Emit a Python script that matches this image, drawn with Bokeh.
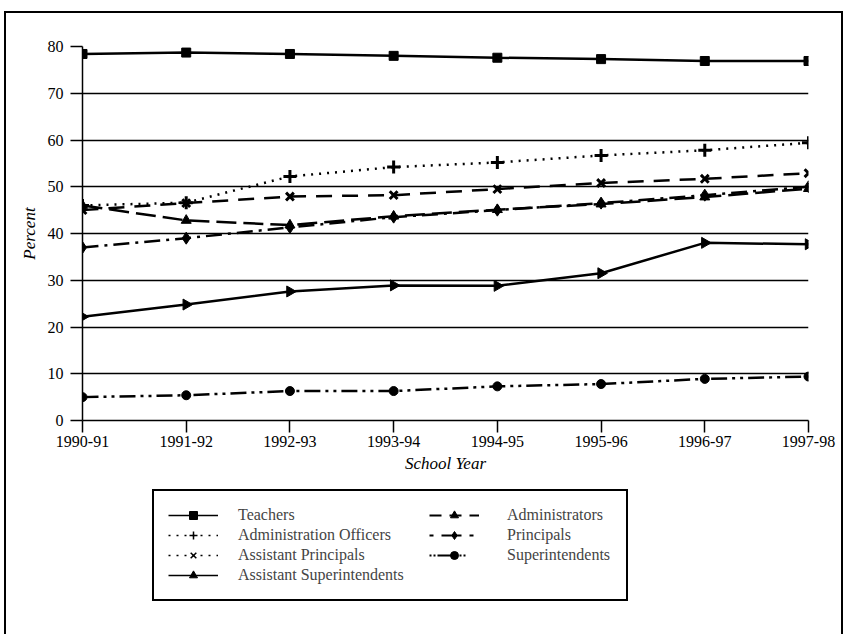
import numpy as np
from bokeh.plotting import figure
from bokeh.layouts import column
from bokeh.models import Legend, LegendItem, FixedTicker, Range1d
from bokeh.embed import file_html
from bokeh.resources import INLINE

years = ["1990-91", "1991-92", "1992-93", "1993-94", "1994-95", "1995-96", "1996-97", "1997-98"]
y_ticks = [0, 10, 20, 30, 40, 50, 60, 70, 80]

teachers = [78.4, 78.7, 78.4, 78.0, 77.6, 77.3, 76.9, 76.9]
admin_officers = [46.0, 46.6, 52.2, 54.2, 55.2, 56.7, 57.8, 59.4]
asst_principals = [45.0, 46.5, 47.9, 48.2, 49.5, 50.8, 51.7, 52.9]
asst_supts = [22.2, 24.8, 27.6, 28.9, 28.8, 31.5, 38.0, 37.7]
administrators = [46.0, 42.8, 41.8, 43.7, 45.1, 46.3, 47.8, 49.6]
principals = [37.0, 39.0, 41.3, 43.5, 45.0, 46.5, 48.2, 50.0]
superintendents = [5.0, 5.4, 6.3, 6.3, 7.3, 7.8, 8.9, 9.4]

x = list(range(len(years)))
FONT = "Liberation Serif"
W = 835

p = figure(width=W, height=462, output_backend="svg", toolbar_location=None,
           x_range=Range1d(0, len(years) - 1), y_range=Range1d(0, 80),
           min_border_left=76, min_border_right=33, min_border_top=33, min_border_bottom=50)
p.outline_line_color = None
p.background_fill_color = "white"
p.border_fill_color = "white"

# grid
p.xgrid.grid_line_color = None
p.ygrid.grid_line_color = "black"
p.ygrid.grid_line_width = 1.5
p.ygrid.ticker = FixedTicker(ticks=y_ticks)

# axes
p.yaxis.ticker = FixedTicker(ticks=y_ticks)
p.xaxis.ticker = FixedTicker(ticks=x)
p.xaxis.major_label_overrides = {i: y for i, y in enumerate(years)}
for ax in (p.xaxis[0], p.yaxis[0]):
    ax.axis_line_color = "black"
    ax.axis_line_width = 1.5
    ax.major_tick_line_color = "black"
    ax.major_tick_line_width = 1.5
    ax.major_tick_in = 0
    ax.minor_tick_line_color = None
    ax.major_label_text_font = FONT
    ax.major_label_text_font_size = "16px"
    ax.major_label_text_color = "black"
    ax.axis_label_text_font = FONT
    ax.axis_label_text_font_size = "17px"
    ax.axis_label_text_font_style = "italic"
    ax.axis_label_text_color = "black"
p.yaxis.major_tick_out = 12
p.yaxis.major_label_standoff = 7
p.yaxis.axis_label = "Percent"
p.yaxis.axis_label_standoff = 6
p.xaxis.major_tick_out = 12
p.xaxis.major_label_standoff = 3
p.xaxis.axis_label = "School Year"
p.xaxis.axis_label_standoff = 4

# series
def series(fig, vals, dash, marker, msize, filled, angle=0.0, lw=2.5, mlw=3):
    r = fig.line(x, vals, line_color="black", line_width=lw, line_dash=dash)
    if filled:
        m = fig.scatter(x, vals, marker=marker, size=msize, color="black", angle=angle)
    else:
        m = fig.scatter(x, vals, marker=marker, size=msize, line_color="black",
                        line_width=mlw, angle=angle)
    return r, m

series(p, teachers, "solid", "square", 9, True)
series(p, admin_officers, "2 6", "cross", 13, False)
series(p, asst_principals, "16 10", "x", 11, False)
series(p, asst_supts, "solid", "triangle", 11, True, angle=-np.pi / 2)
series(p, administrators, "20 7", "triangle", 10, True)
series(p, principals, "16 6 3 6", "diamond", 12, True)
series(p, superintendents, "16 5 3 5 3 5", "circle", 9, True)

# legend panel (its sample glyphs use the same series, kept out of view)
LH = 625 - 462
q = figure(width=W, height=LH, output_backend="svg", toolbar_location=None,
           x_range=Range1d(0, 1), y_range=Range1d(-2, -1),
           min_border_left=0, min_border_right=0, min_border_top=0, min_border_bottom=0)
q.axis.visible = False
q.grid.visible = False
q.outline_line_color = None
q.background_fill_color = "white"
q.border_fill_color = "white"

l_t = series(q, teachers, "solid", "square", 8, True, lw=1.5)
l_ao = series(q, admin_officers, "2 6", "cross", 6, False, lw=1.5, mlw=1.5)
l_ap = series(q, asst_principals, "2 6", "x", 6, False, lw=1.5, mlw=1.5)
l_as = series(q, asst_supts, "solid", "triangle", 6, True, angle=-np.pi / 2, lw=1.5)
l_ad = series(q, administrators, "12 8", "triangle", 8, True, lw=2)
l_pr = series(q, principals, "4 8 20 8", "diamond", 8, True, lw=2)
l_su = series(q, superintendents, "2 2 2 2 20", "circle", 7, True, lw=2)

PAD = 14
GH = 20
left_items = [
    LegendItem(label="Teachers", renderers=list(l_t)),
    LegendItem(label="Administration Officers", renderers=list(l_ao)),
    LegendItem(label="Assistant Principals", renderers=list(l_ap)),
    LegendItem(label="Assistant Superintendents", renderers=list(l_as)),
]
right_items = [
    LegendItem(label="Administrators", renderers=list(l_ad)),
    LegendItem(label="Principals", renderers=list(l_pr)),
    LegendItem(label="Superintendents", renderers=list(l_su)),
]
FRAME_X = 77  # the legend panel's frame is aligned with the chart's frame
box_left, box_top, box_right = 147 - FRAME_X, 18, 619 - FRAME_X
leg_h = 2 * PAD + 4 * GH
common = dict(label_text_font=FONT, label_text_font_size="16px", glyph_width=50,
              glyph_height=GH, label_height=GH, spacing=0,
              padding=PAD, margin=0, orientation="vertical")
leg1 = Legend(items=left_items, location=(box_left, LH - box_top - leg_h),
              label_width=(box_right - box_left) - 2 * PAD - 70, label_standoff=20,
              border_line_color="black", border_line_width=2, border_line_alpha=1.0,
              background_fill_color="white", background_fill_alpha=1.0, **common)
leg2 = Legend(items=right_items, location=(438 - FRAME_X - PAD, LH - box_top - leg_h + GH + 16),
              label_width=100, label_standoff=28, border_line_color=None,
              background_fill_alpha=0.0, **common)
q.add_layout(leg1, "center")
q.add_layout(leg2, "center")

layout = column(p, q, spacing=0,
                styles={"border": "2px solid black", "margin-left": "4px", "margin-top": "11px"})
open("out.html", "w").write(file_html(layout, INLINE))
